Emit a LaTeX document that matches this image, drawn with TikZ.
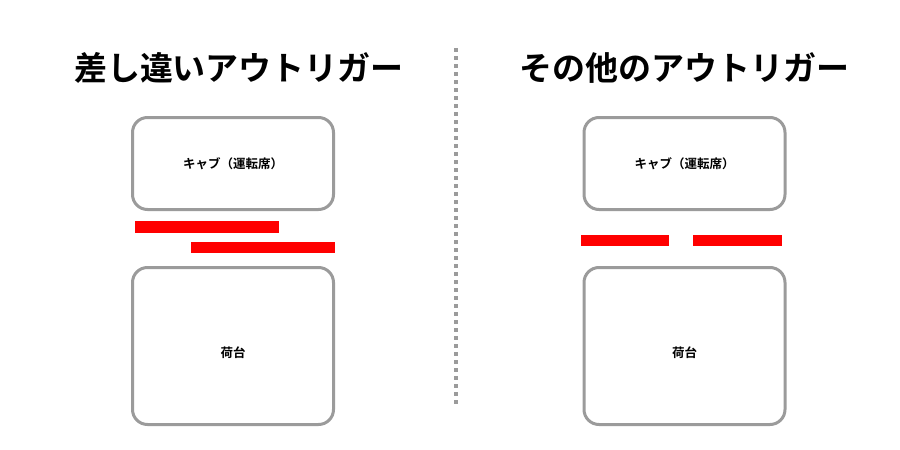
\documentclass[tikz,border=0pt]{standalone}
\usepackage{fontspec}
\newfontfamily\jpfont{Noto Sans CJK JP}[BoldFont={Noto Sans CJK JP Bold}]
\usepackage{tikz}
\definecolor{framegray}{HTML}{9B9B9B}
\definecolor{barred}{HTML}{FF0000}
\tikzset{
  part/.style={draw=framegray, line width=3pt, rounded corners=15pt, fill=white,
    font=\jpfont\bfseries\fontsize{12.5}{14}\selectfont, minimum width=201pt},
  partlabel/.style={font=\jpfont\bfseries\fontsize{12.5}{14}\selectfont},
  heading/.style={font=\jpfont\bfseries\fontsize{33}{38}\selectfont, inner sep=0pt},
  outrigger/.style={fill=barred},
  divider/.style={draw=framegray, line width=4pt, dash pattern=on 4pt off 4pt}
}

\begin{document}
\begin{tikzpicture}[x=1pt, y=-1pt]
  \useasboundingbox (0,0) rectangle (900,450);
  % titles
  \node[heading] (titleL) at (239,68) {差し違いアウトリガー};
  \node[heading] (titleR) at (684,68) {その他のアウトリガー};
  % left truck
  \node[part, minimum height=92pt] (cabL) at (233,163.5) {キャブ（運転席）};
  \node[part, minimum height=157pt] (bedL) at (233,346) {};
  \node[partlabel] (bedLtext) at ([yshift=-7pt]bedL.center) {荷台};
  \fill[outrigger] (135,221) rectangle (279,233);
  \fill[outrigger] (191,242) rectangle (335,253);
  % right truck
  \node[part, minimum height=92pt] (cabR) at (684.5,163.5) {キャブ（運転席）};
  \node[part, minimum height=157pt] (bedR) at (684.5,346) {};
  \node[partlabel] (bedRtext) at ([yshift=-7pt]bedR.center) {荷台};
  \fill[outrigger] (581,235) rectangle (669,246);
  \fill[outrigger] (693,235) rectangle (782,246);
  % divider
  \coordinate (top) at (456,48);
  \coordinate (bottom) at (456,404);
  \draw[divider] (top) -- (bottom);
\end{tikzpicture}
\end{document}
